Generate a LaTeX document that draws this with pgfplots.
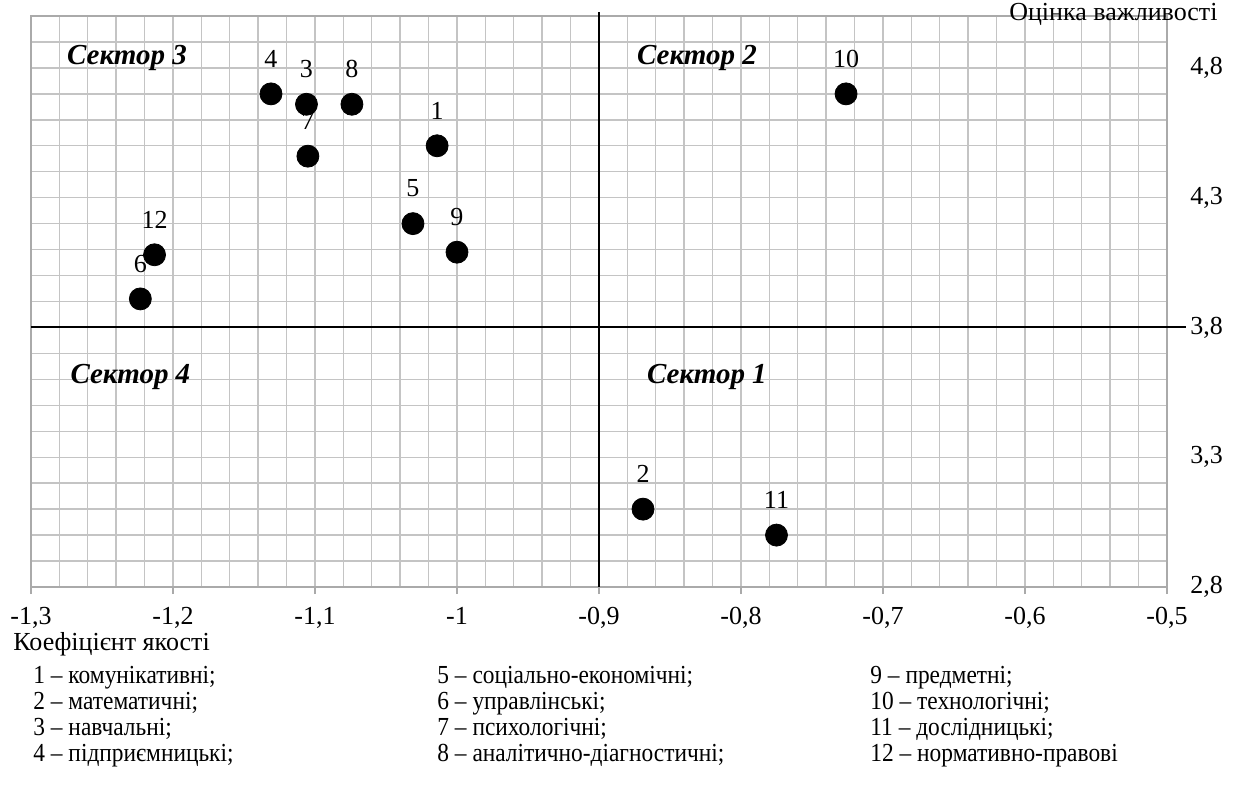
\documentclass[border=0pt]{standalone}
\usepackage{pgfplots}
\pgfplotsset{compat=1.18}
\usepackage{pgfplotstable}
\usepackage{fontspec}
\setmainfont{Liberation Serif}
\newfontfamily\legfont{Liberation Serif}[FakeStretch=0.9]
\definecolor{gridc}{RGB}{196,196,196}
\definecolor{axc}{RGB}{170,170,170}
\pgfplotstableread{
x y label
-1.014 4.50 1
-0.869 3.10 2
-1.106 4.66 3
-1.131 4.70 4
-1.031 4.20 5
-1.223 3.91 6
-1.105 4.46 7
-1.074 4.66 8
-1.000 4.09 9
-0.726 4.70 10
-0.775 3.00 11
-1.213 4.08 12
}\pts
\begin{document}
\fontsize{13}{13}\selectfont
\begin{tikzpicture}
\useasboundingbox (0,0) rectangle (619.5pt,-396.5pt);
\begin{axis}[
  at={(15.5pt,-293.5pt)}, anchor=south west,
  scale only axis, width=568pt, height=285.5pt,
  xmin=-1.3, xmax=-0.5, ymin=2.8, ymax=5.0,
  xtick={-1.3,-1.2,-1.1,-1,-0.9,-0.8,-0.7,-0.6,-0.5},
  ytick={2.8,3.3,3.8,4.3,4.8},
  minor xtick={-1.3,-1.28,...,-0.49},
  minor ytick={2.8,2.9,...,5.01},
  grid=both,
  major grid style={gridc, line width=0.7pt},
  minor grid style={gridc, line width=0.7pt},
  minor tick length=0pt,
  major tick length=3.5pt,
  tick align=outside,
  xtick pos=bottom, ytick pos=right,
  yticklabel pos=right,
  ytick style={draw=none},
  xtick style={axc, line width=0.7pt},
  axis line style={axc, line width=0.7pt},
  /pgf/number format/.cd, use comma, fixed, precision=1, 1000 sep={}, assume math mode=true,
  /pgfplots/.cd,
  tick label style={font=\fontsize{13}{13}\selectfont, inner sep=0pt},
  xticklabel style={anchor=north, yshift=-6.5pt},
  yticklabel style={anchor=west, xshift=8pt},
  clip=false,
]
\draw[black, line width=1pt] (axis cs:-1.3,3.8) -- (axis cs:-0.4866,3.8);
\draw[black, line width=1pt] (axis cs:-0.9,2.8) -- (axis cs:-0.9,5.016);
\node[font=\fontsize{14.5}{14.5}\selectfont\bfseries\itshape] at (axis cs:-1.2324,4.838) {Сектор 3};
\node[font=\fontsize{14.5}{14.5}\selectfont\bfseries\itshape] at (axis cs:-0.831,4.838) {Сектор 2};
\node[font=\fontsize{14.5}{14.5}\selectfont\bfseries\itshape] at (axis cs:-1.230,3.609) {Сектор 4};
\node[font=\fontsize{14.5}{14.5}\selectfont\bfseries\itshape] at (axis cs:-0.824,3.609) {Сектор 1};
\addplot[only marks, mark=*, mark size=5.5pt, black,
  nodes near coords, point meta=explicit symbolic,
  nodes near coords style={anchor=south, inner sep=0pt, yshift=13pt, font=\fontsize{13}{13}\selectfont}]
  table[x=x, y=y, meta=label] {\pts};
\end{axis}
\begin{scope}[x=0.5pt, y=-0.5pt, every node/.style={inner sep=0pt, font=\fontsize{13}{13}\selectfont}]
\node[anchor=east] at (1218,14) {Оцінка важливості};
\node[anchor=base west] at (13,650) {Коефіцієнт якості};
\begin{scope}[every node/.style={inner sep=0pt, anchor=base west, font=\legfont\fontsize{13}{13}\selectfont}]
\node at (33,683) {1 – комунікативні;};
\node at (33,709) {2 – математичні;};
\node at (33,735) {3 – навчальні;};
\node at (33,761) {4 – підприємницькі;};
\node at (437,683) {5 – соціально-економічні;};
\node at (437,709) {6 – управлінські;};
\node at (437,735) {7 – психологічні;};
\node at (437,761) {8 – аналітично-діагностичні;};
\node at (870,683) {9 – предметні;};
\node at (870,709) {10 – технологічні;};
\node at (870,735) {11 – дослідницькі;};
\node at (870,761) {12 – нормативно-правові};
\end{scope}
\end{scope}
\end{tikzpicture}
\end{document}
